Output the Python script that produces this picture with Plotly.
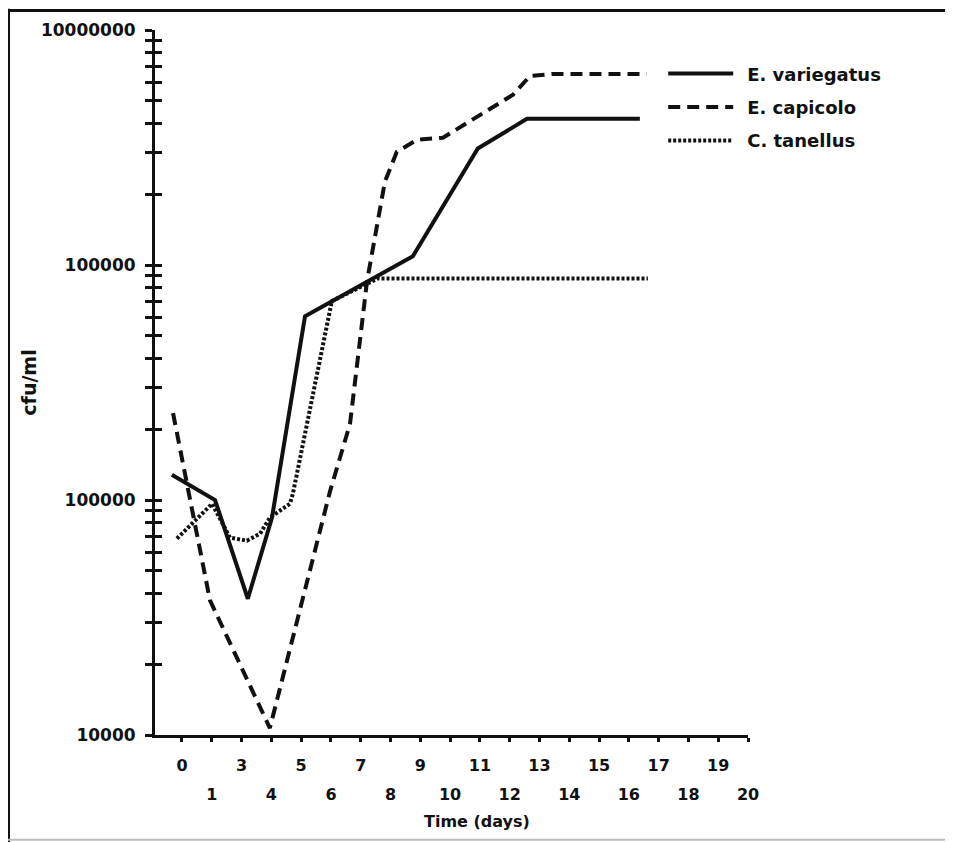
import plotly.graph_objects as go

# ---------------- data ----------------
# x-axis tick labels (days) placed at evenly spaced tick positions 0..19
day_labels = ["0", "1", "3", "4", "5", "6", "7", "8", "9", "10",
              "11", "12", "13", "14", "15", "16", "17", "18", "19", "20"]

# y-axis decade labels as printed on the original chart
y_decades = [1e4, 1e5, 1e6, 1e7]
y_decade_labels = ["10000", "100000", "100000", "10000000"]

# series: x in tick-position units, y in cfu/ml
variegatus_x = [-0.34, 1.11, 2.21, 3.02, 4.13, 7.75, 9.93, 11.58, 15.37]
variegatus_y = [128000, 100000, 38000, 84000, 605000, 1090000, 3130000, 4190000, 4190000]

capicolo_x = [-0.30, 0.94, 2.95, 4.97, 5.64, 6.21, 6.81, 7.21, 7.89, 8.76, 11.11, 11.68, 12.45, 15.60]
capicolo_y = [234000, 37400, 10700, 109000, 211000, 851000, 2260000, 3030000, 3410000,
              3480000, 5300000, 6370000, 6500000, 6500000]

tanellus_x = [-0.17, 1.01, 1.61, 2.18, 2.62, 2.95, 3.62, 3.72, 5.03, 6.58, 15.64]
tanellus_y = [68500, 96400, 69200, 67100, 71900, 84100, 96400, 106000, 702000, 877000, 877000]

series_names = ["E. variegatus", "E. capicolo", "C. tanellus"]

# ---------------- figure ----------------
FONT = "DejaVu Sans"
INK = "#111111"
GAP = "\u2002"  # small gap between legend sample and label

fig = go.Figure()
fig.add_trace(go.Scatter(x=variegatus_x, y=variegatus_y, mode="lines", name=GAP + series_names[0],
                         legendgroup="a", line=dict(color=INK, width=4)))
fig.add_trace(go.Scatter(x=capicolo_x, y=capicolo_y, mode="lines", name=GAP + series_names[1],
                         legendgroup="b", line=dict(color=INK, width=4, dash="12px,7px")))
fig.add_trace(go.Scatter(x=tanellus_x, y=tanellus_y, mode="lines", name=GAP + series_names[2],
                         legendgroup="c", line=dict(color=INK, width=4, dash="3px,2px")))
# empty trace to register the overlay axes (crossing ticks / second label row)
fig.add_trace(go.Scatter(x=[None], y=[None], xaxis="x2", yaxis="y2", showlegend=False,
                         hoverinfo="skip", mode="lines"))

# y ticks: every 1..9 x decade, labels only on decades
y_tickvals, y_ticktext = [], []
for i, d in enumerate(y_decades):
    if i < len(y_decades) - 1:
        for k in range(1, 10):
            y_tickvals.append(k * d)
            y_ticktext.append(y_decade_labels[i] if k == 1 else "")
    else:
        y_tickvals.append(d)
        y_ticktext.append(y_decade_labels[i])

n = len(day_labels)
x_range = [-0.906, n - 1]
top_text = [lbl if i % 2 == 0 else "" for i, lbl in enumerate(day_labels)]
bottom_vals = [i for i in range(n) if i % 2 == 1]
bottom_text = [day_labels[i] for i in bottom_vals]

xtickfont = dict(family=FONT, size=16, color=INK, weight="bold")
ytickfont = dict(family=FONT, size=17, color=INK, weight="bold")

fig.update_layout(
    width=945, height=834,
    margin=dict(l=147, r=205, t=20, b=107),
    paper_bgcolor="white", plot_bgcolor="white",
    font=dict(family=FONT, color=INK),
    xaxis=dict(range=x_range, tickmode="array", tickvals=list(range(n)), ticktext=top_text,
               ticks="outside", ticklen=4, tickwidth=3, tickcolor=INK,
               showline=True, linewidth=3, linecolor=INK, showgrid=False, zeroline=False,
               tickfont=xtickfont, ticklabelstandoff=10),
    xaxis2=dict(range=x_range, overlaying="x", anchor="y", side="bottom",
                tickmode="array", tickvals=bottom_vals, ticktext=bottom_text,
                ticks="", showline=False, showgrid=False, zeroline=False,
                tickfont=xtickfont, ticklabelstandoff=48),
    yaxis=dict(type="log", range=[4, 7], tickmode="array", tickvals=y_tickvals, ticktext=y_ticktext,
               ticks="outside", ticklen=7, tickwidth=2.5, tickcolor=INK,
               showline=True, linewidth=3, linecolor=INK, showgrid=False, zeroline=False,
               tickfont=ytickfont, ticklabelstandoff=6,
               title=dict(text="cfu/ml", font=dict(family=FONT, size=19, color=INK, weight="bold"),
                          standoff=0)),
    yaxis2=dict(type="log", range=[4, 7], overlaying="y", anchor="x", side="left",
                tickmode="array", tickvals=y_tickvals, ticks="inside", ticklen=7, tickwidth=2.5,
                tickcolor=INK, showticklabels=False, showline=False, showgrid=False, zeroline=False),
    legend=dict(x=0.857, y=0.964, xanchor="left", yanchor="top", bgcolor="rgba(0,0,0,0)",
                font=dict(family=FONT, size=18, color=INK, weight="bold"),
                itemwidth=65, tracegroupgap=7),
    showlegend=True,
)

fig.add_annotation(text="Time (days)", xref="paper", yref="paper", x=0.543, y=-0.123,
                   xanchor="center", yanchor="middle", showarrow=False,
                   font=dict(family=FONT, size=16, color=INK, weight="bold"))

# page frame of the scanned figure
fig.add_shape(type="line", xref="paper", yref="paper", x0=-0.2479, x1=-0.2479, y0=-0.16, y1=1.03,
              line=dict(color=INK, width=4))
fig.add_shape(type="line", xref="paper", yref="paper", x0=-0.2479, x1=1.36, y0=1.0275, y1=1.0275,
              line=dict(color=INK, width=3))
fig.add_shape(type="line", xref="paper", yref="paper", x0=-0.2479, x1=1.36, y0=-0.1485, y1=-0.1485,
              line=dict(color="#bbbbbb", width=2))

fig.write_html("out.html")
